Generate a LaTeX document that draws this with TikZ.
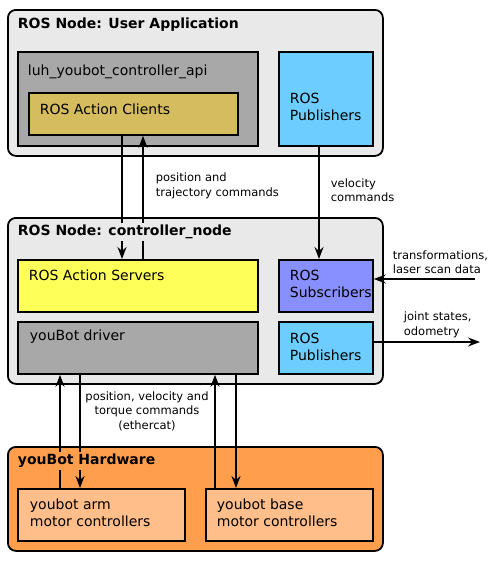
\documentclass[tikz,border=0pt]{standalone}
\usepackage{fontspec}
\setmainfont{DejaVu Sans}
\usepackage{xcolor}
\usepackage{tikz}
\usetikzlibrary{arrows.meta}

\definecolor{nodebg}{HTML}{E9E9E9}
\definecolor{modgray}{HTML}{A8A8A8}
\definecolor{clientcol}{HTML}{D4BC5F}
\definecolor{pubcol}{HTML}{6DCDFF}
\definecolor{servercol}{HTML}{FFFF5A}
\definecolor{subcol}{HTML}{8890FF}
\definecolor{hwcol}{HTML}{FF9F4D}
\definecolor{hwbox}{HTML}{FFBE8A}

\begin{document}
\begin{tikzpicture}[x=1pt, y=-1pt, line width=1.8pt,
		outer/.style = {draw, rounded corners=8, anchor=north west, inner sep=0},
		main/.style = {draw, anchor=north west, inner sep=0},
		txt/.style = {anchor=west, align=left, inner sep=0, font=\fontsize{14}{17.5}\selectfont},
		lbl/.style = {anchor=west, align=left, inner sep=0, font=\fontsize{11.5}{14.5}\selectfont},
		ttl/.style = {anchor=west, inner sep=2, font=\bfseries\fontsize{14}{17}\selectfont},
		arr/.style = {-{Stealth[length=12pt, width=9pt, inset=4pt]}}]
		\useasboundingbox (0,0) rectangle (500,562);
		
		\node[outer, fill=nodebg, minimum width=375, minimum height=146] (app) at (7,9) {};
		\node[main, fill=modgray, minimum width=240, minimum height=94] (api) at (17,51) {};
		\node[main, fill=clientcol, minimum width=209, minimum height=42] (clients) at (28,92) {};
		\node[main, fill=pubcol, minimum width=94, minimum height=94] (pubtop) at (278,51) {};
		
		\node[outer, fill=nodebg, minimum width=375, minimum height=166] (ctrl) at (7,217) {};
		\node[main, fill=servercol, minimum width=240, minimum height=52] (servers) at (17,259) {};
		\node[main, fill=subcol, minimum width=94, minimum height=52] (subs) at (278,259) {};
		\node[main, fill=modgray, minimum width=240, minimum height=52] (driver) at (17,321) {};
		\node[main, fill=pubcol, minimum width=94, minimum height=52] (pubmid) at (278,321) {};
		
		\node[outer, fill=hwcol, minimum width=375, minimum height=104] (hw) at (7,446) {};
		\node[main, fill=hwbox, minimum width=167, minimum height=52] (arm) at (17,488) {};
		\node[main, fill=hwbox, minimum width=167, minimum height=52] (base) at (205,488) {};
		
		\node[txt] (apitxt) at (27,72) {luh\_youbot\_controller\_api};
		\node[txt] (clitxt) at (39,109) {ROS Action Clients};
		\node[txt] (pubtoptxt) at (289,107) {ROS\\Publishers};
		\node[txt] (srvtxt) at (28,275) {ROS Action Servers};
		\node[txt] (subtxt) at (289,284) {ROS\\Subscribers};
		\node[txt] (drvtxt) at (29,337) {youBot driver};
		\node[txt] (pubmidtxt) at (289,347) {ROS\\Publishers};
		\node[txt] (armtxt) at (29,513) {youbot arm\\motor controllers};
		\node[txt] (basetxt) at (216,513) {youbot base\\motor controllers};
		
		\draw[arr] (122,0 |- clients.south) -- (122,0 |- servers.north);
		\draw[arr] (143,0 |- servers.north) -- (143,0 |- clients.south);
		\draw[arr] (319,0 |- pubtop.south) -- (319,0 |- subs.north);
		
		\coordinate (tfin) at (475,279);
		\coordinate (jsout) at (480,342);
		\draw[arr] (tfin) -- (tfin -| subs.east);
		\draw[arr] (jsout -| pubmid.east) -- (jsout);
		
		\draw[arr] (60,0 |- arm.north) -- (60,0 |- driver.south);
		\draw[arr] (80,0 |- driver.south) -- (80,0 |- arm.north);
		\draw[arr] (215,0 |- base.north) -- (215,0 |- driver.south);
		\draw[arr] (236,0 |- driver.south) -- (236,0 |- base.north);
		
		\node[ttl, fill=nodebg] (apptitle) at (15,25) {ROS Node: User Application};
		\node[ttl, fill=nodebg] (ctrltitle) at (15,232) {ROS Node: controller\_node};
		\node[ttl, fill=hwcol] (hwtitle) at (15,461) {youBot Hardware};
		
		\node[lbl] (cmdlbl) at (155,186) {position and\\trajectory commands};
		\node[lbl] (vellbl) at (330,190) {velocity\\commands};
		\node[lbl] (tflbl) at (392,262) {transformations,\\laser scan data};
		\node[lbl] (jslbl) at (403,325) {joint states,\\odometry};
		\node[lbl, anchor=center, align=center] (ecatlbl) at (147,411) {position, velocity and\\torque commands\\(ethercat)};
	\end{tikzpicture}
\end{document}
